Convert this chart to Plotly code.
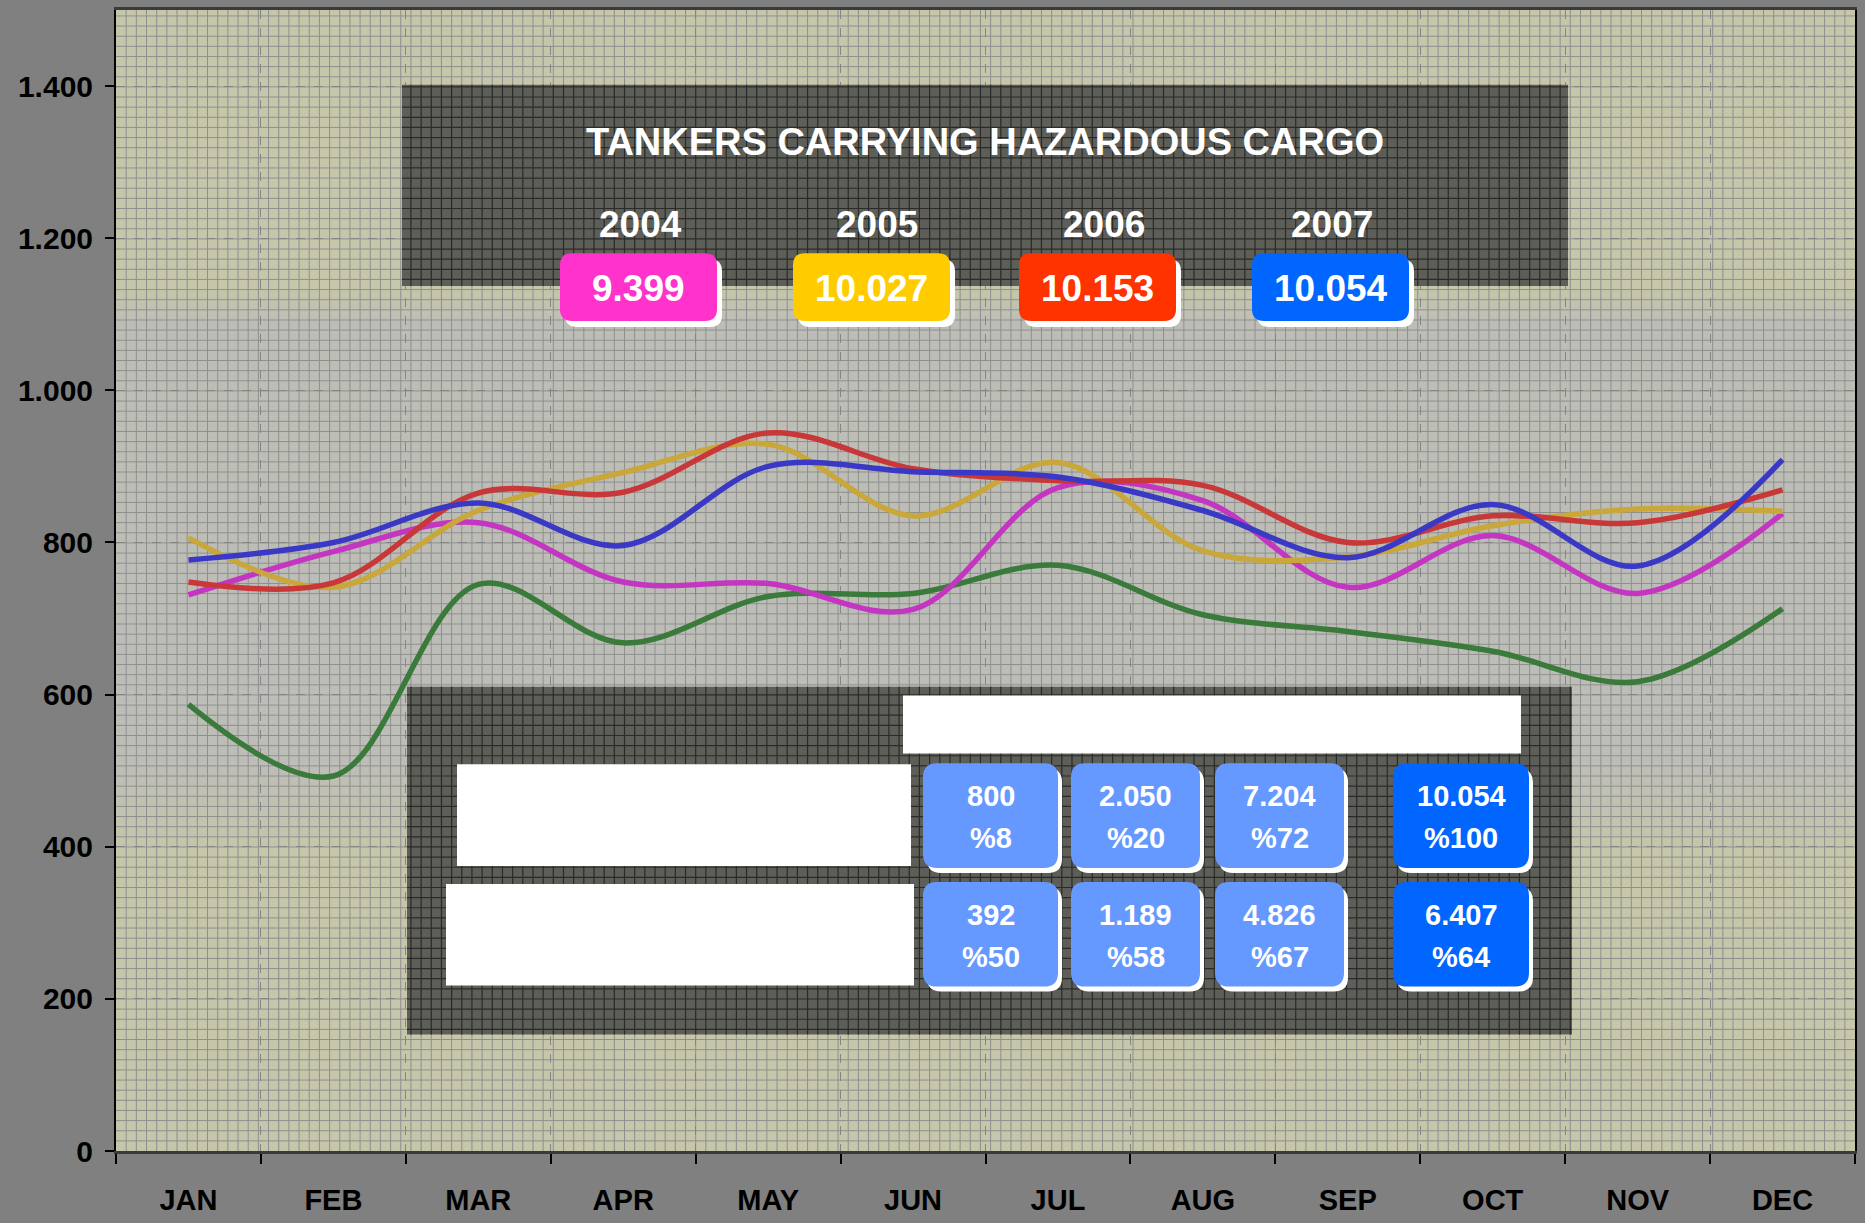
import plotly.graph_objects as go

# ---------------- data ----------------
months = ["JAN", "FEB", "MAR", "APR", "MAY", "JUN", "JUL", "AUG", "SEP", "OCT", "NOV", "DEC"]
years = ["2004", "2005", "2006", "2007"]
vals_2004 = [731, 788, 826, 748, 746, 712, 872, 855, 741, 809, 733, 838]
vals_2005 = [806, 741, 842, 892, 929, 835, 905, 789, 781, 822, 844, 841]
vals_2006 = [748, 747, 865, 866, 944, 897, 881, 875, 800, 835, 826, 869]
vals_2007 = [777, 800, 852, 796, 900, 893, 886, 842, 780, 850, 769, 909]
vals_green = [587, 493, 745, 668, 729, 733, 770, 705, 683, 657, 617, 713]

table_row1_values = [800, 2050, 7204, 10054]
table_row1_pct = ["%8", "%20", "%72", "%100"]
table_row2_values = [392, 1189, 4826, 6407]
table_row2_pct = ["%50", "%58", "%67", "%64"]

title_text = "TANKERS CARRYING HAZARDOUS CARGO"

# ---------------- styling ----------------
FONT = "Liberation Sans, Arial, sans-serif"
W, H = 1865, 1223
PL, PR, PT, PB = 116, 1855, 7, 1152

line_colors = {"2004": "#c435c2", "2005": "#c9a73a", "2006": "#c93838",
               "2007": "#3939c6", "green": "#3a7a3a"}
box_colors = ["#ff33cc", "#ffcc00", "#ff3300", "#0066ff"]
BEIGE = (198, 198, 170)
GRAY = (189, 189, 184)
GS = 10.17  # fine pattern spacing (px)


def fmt(n):
    return f"{n:,}".replace(",", ".")


def px(x):
    return (x - PL) / (PR - PL)


def py(y):
    return (PB - y) / (PB - PT)


def rrect_path(x0, y0, x1, y1, r):
    return (f"M {px(x0 + r)},{py(y0)} L {px(x1 - r)},{py(y0)} "
            f"Q {px(x1)},{py(y0)} {px(x1)},{py(y0 + r)} "
            f"L {px(x1)},{py(y1 - r)} Q {px(x1)},{py(y1)} {px(x1 - r)},{py(y1)} "
            f"L {px(x0 + r)},{py(y1)} Q {px(x0)},{py(y1)} {px(x0)},{py(y1 - r)} "
            f"L {px(x0)},{py(y0 + r)} Q {px(x0)},{py(y0)} {px(x0 + r)},{py(y0)} Z")


def grid_path(x0, y0, x1, y1):
    parts = []
    k = 1
    while PL + k * GS < x1:
        xx = PL + k * GS
        if xx > x0:
            parts.append(f"M {px(xx)},{py(y0)} L {px(xx)},{py(y1)}")
        k += 1
    k = 1
    while PB - k * GS > y0:
        yy = PB - k * GS
        if yy < y1:
            parts.append(f"M {px(x0)},{py(yy)} L {px(x1)},{py(yy)}")
        k += 1
    return " ".join(parts)


def mix(c1, c2, t):
    return "rgb(%d,%d,%d)" % tuple(round(a + (b - a) * t) for a, b in zip(c1, c2))


def bg_color(y):
    stops = [(PT, 0.0), (288, 0.0), (322, 1.0), (760, 1.0), (850, 0.0), (PB, 0.0)]
    for (ya, ta), (yb, tb) in zip(stops[:-1], stops[1:]):
        if ya <= y <= yb:
            t = ta + (tb - ta) * (y - ya) / (yb - ya) if yb > ya else ta
            return mix(BEIGE, GRAY, t)
    return mix(BEIGE, GRAY, 0)


shapes = []
# gradient background strips
step = 6
y = PT
while y < PB:
    y2 = min(y + step, PB)
    shapes.append(dict(type="rect", xref="paper", yref="paper", layer="below",
                       x0=0, x1=1, y0=py(y2), y1=py(y), line=dict(width=0),
                       fillcolor=bg_color((y + y2) / 2)))
    y = y2

# fine grid pattern
shapes.append(dict(type="path", xref="paper", yref="paper", layer="below",
                   path=grid_path(PL, PT, PR, PB), line=dict(color="#8f8f8f", width=1)))

# dark boxes with darker pattern
for (x0, y0, x1, y1) in [(402, 82, 1568, 284), (407, 686, 1572, 1035)]:
    shapes.append(dict(type="rect", xref="paper", yref="paper", layer="above",
                       x0=px(x0), x1=px(x1), y0=py(y1), y1=py(y0),
                       line=dict(width=0), fillcolor="#5e5e58"))
    shapes.append(dict(type="path", xref="paper", yref="paper", layer="above",
                       path=grid_path(x0, y0, x1, y1), line=dict(color="#2a2a28", width=1.2)))

# white blank label areas
for (x0, y0, x1, y1) in [(903, 695, 1521, 753), (457, 764, 911, 866), (446, 884, 914, 986)]:
    shapes.append(dict(type="rect", xref="paper", yref="paper", layer="above",
                       x0=px(x0), x1=px(x1), y0=py(y1), y1=py(y0),
                       line=dict(width=0), fillcolor="white"))

annotations = []
annotations.append(dict(text=title_text, xref="paper", yref="paper", x=px(985), y=py(139),
                        showarrow=False, xanchor="center", yanchor="middle",
                        font=dict(family=FONT, size=38, color="white", weight="bold")))

# year legend boxes
legend_x = [(560, 717), (793, 950), (1019, 1176), (1252, 1409)]
year_label_x = [640, 877, 1104, 1332]
totals = [sum(vals_2004), sum(vals_2005), sum(vals_2006), sum(vals_2007)]
for i, yr in enumerate(years):
    x0, x1 = legend_x[i]
    shapes.append(dict(type="path", xref="paper", yref="paper", layer="above",
                       path=rrect_path(x0 + 5, 257, x1 + 5, 325, 12),
                       line=dict(width=0), fillcolor="white"))
    shapes.append(dict(type="path", xref="paper", yref="paper", layer="above",
                       path=rrect_path(x0, 251, x1, 319, 12),
                       line=dict(width=0), fillcolor=box_colors[i]))
    annotations.append(dict(text=yr, xref="paper", yref="paper", x=px(year_label_x[i]), y=py(222),
                            showarrow=False, xanchor="center", yanchor="middle",
                            font=dict(family=FONT, size=37, color="white", weight="bold")))
    annotations.append(dict(text=fmt(totals[i]), xref="paper", yref="paper",
                            x=px((x0 + x1) / 2), y=py(286),
                            showarrow=False, xanchor="center", yanchor="middle",
                            font=dict(family=FONT, size=37, color="white", weight="bold")))

# table boxes
col_x = [(923, 1058), (1071, 1200), (1215, 1344), (1393, 1529)]
rows = [((763, 868), table_row1_values, table_row1_pct),
        ((882, 987), table_row2_values, table_row2_pct)]
for (ry0, ry1), vals, pcts in rows:
    for j, (cx0, cx1) in enumerate(col_x):
        col = "#0066ff" if j == 3 else "#6699ff"
        shapes.append(dict(type="path", xref="paper", yref="paper", layer="above",
                           path=rrect_path(cx0 + 4, ry0 + 5, cx1 + 4, ry1 + 5, 14),
                           line=dict(width=0), fillcolor="white"))
        shapes.append(dict(type="path", xref="paper", yref="paper", layer="above",
                           path=rrect_path(cx0, ry0, cx1, ry1, 14),
                           line=dict(width=0), fillcolor=col))
        cx = (cx0 + cx1) / 2
        annotations.append(dict(text=fmt(vals[j]), xref="paper", yref="paper", x=px(cx),
                                y=py(ry0 + 33), showarrow=False, xanchor="center", yanchor="middle",
                                font=dict(family=FONT, size=29, color="white", weight="bold")))
        annotations.append(dict(text=pcts[j], xref="paper", yref="paper", x=px(cx),
                                y=py(ry0 + 75), showarrow=False, xanchor="center", yanchor="middle",
                                font=dict(family=FONT, size=29, color="white", weight="bold")))

# ---------------- traces ----------------
fig = go.Figure()
idx = list(range(len(months)))
series = [("green", vals_green), ("2004", vals_2004), ("2005", vals_2005),
          ("2006", vals_2006), ("2007", vals_2007)]
for name, vals in series:
    fig.add_trace(go.Scatter(x=idx, y=vals, mode="lines", name=name,
                             line=dict(color=line_colors[name], width=5.5,
                                       shape="spline", smoothing=1.0),
                             hoverinfo="x+y"))

fig.update_layout(
    width=W, height=H,
    margin=dict(l=PL, r=W - PR, t=PT, b=H - PB),
    paper_bgcolor="#808080",
    plot_bgcolor="rgb(198,198,170)",
    showlegend=False,
    separators=",.",
    shapes=shapes,
    annotations=annotations,
    xaxis=dict(range=[-0.5, 11.5], tickmode="array", tickvals=idx, ticktext=months,
               ticks="", showgrid=False, zeroline=False,
               tickfont=dict(family=FONT, size=29, color="black", weight="bold"),
               ticklabelstandoff=21,
               showline=True, linecolor="#3a3a3a", linewidth=3, mirror=True,
               minor=dict(tickmode="linear", tick0=-0.5, dtick=1, ticks="outside", ticklen=10,
                          tickwidth=2, tickcolor="black", showgrid=True,
                          gridcolor="#858585", griddash="dash", gridwidth=1)),
    yaxis=dict(range=[0, 1500], tickmode="linear", tick0=0, dtick=200, tickformat=",d",
               ticks="outside", ticklen=9, tickwidth=2, tickcolor="black",
               showgrid=True, gridcolor="#858585", griddash="dash", gridwidth=1,
               zeroline=False, showline=True, linecolor="black", linewidth=2, mirror=True,
               tickfont=dict(family=FONT, size=30, color="black", weight="bold"),
               ticklabelstandoff=6),
)

fig.write_html("out.html", config={"displayModeBar": False},
               post_script="document.body.style.margin='0px';document.body.style.overflow='hidden';")
